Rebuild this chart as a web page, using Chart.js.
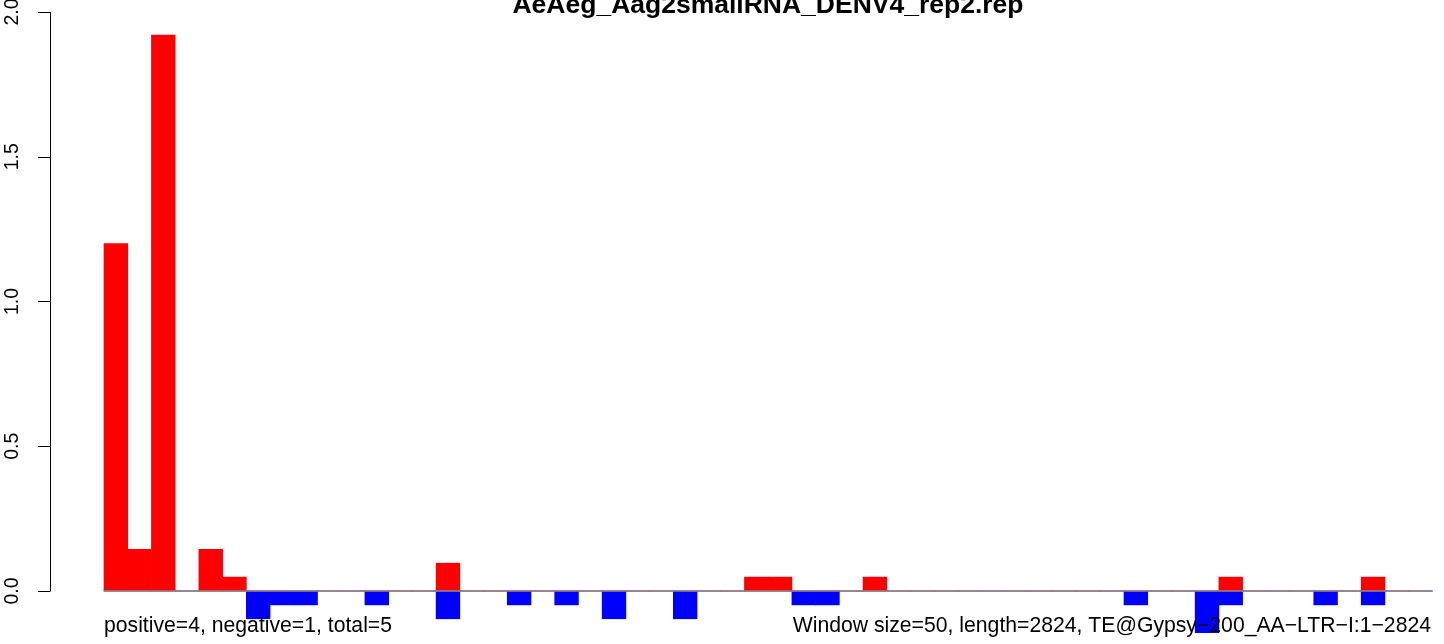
<!DOCTYPE html>
<html>
<head>
<meta charset="utf-8">
<script src="https://cdn.jsdelivr.net/npm/chart.js@4/dist/chart.umd.min.js"></script>
<style>
  body { margin: 0; background: #fff; }
  #wrap { width: 1444px; height: 644px; position: relative; }
</style>
</head>
<body>
<div id="wrap"><canvas id="grafico"></canvas></div>
<script>
// valores por janela de 50 nt (56 janelas)
const positivos = [
  1.2, 0.144, 1.92, 0, 0.144, 0.048, 0, 0, 0, 0,
  0, 0, 0, 0, 0.096, 0, 0, 0, 0, 0,
  0, 0, 0, 0, 0, 0, 0, 0.048, 0.048, 0,
  0, 0, 0.048, 0, 0, 0, 0, 0, 0, 0,
  0, 0, 0, 0, 0, 0, 0, 0.048, 0, 0,
  0, 0, 0, 0.048, 0, 0
];
const negativos = [
  0, 0, 0, 0, 0, 0, -0.096, -0.048, -0.048, 0,
  0, -0.048, 0, 0, -0.096, 0, 0, -0.048, 0, -0.048,
  0, -0.096, 0, 0, -0.096, 0, 0, 0, 0, -0.048,
  -0.048, 0, 0, 0, 0, 0, 0, 0, 0, 0,
  0, 0, 0, -0.048, 0, 0, -0.144, -0.048, 0, 0,
  0, -0.048, 0, -0.048, 0, 0
];
const ticksY = [0, 0.5, 1, 1.5, 2];
const rotulosY = ["0.0", "0.5", "1.0", "1.5", "2.0"];
const titulo = "AeAeg_Aag2smallRNA_DENV4_rep2.rep";
const textoEsq = "positive=4, negative=1, total=5";
const textoDir = "Window size=50, length=2824, TE@Gypsy\u2212200_AA\u2212LTR\u2212I:1\u22122824";

const fonte = '"Liberation Sans", Arial, Helvetica, sans-serif';

const eixos = {
  id: 'eixos',
  afterDraw(chart) {
    const c = chart.ctx;
    const x = chart.scales.x, y = chart.scales.y;
    const esq = chart.chartArea.left;
    c.save();
    // linha do eixo x (cinza) do inicio ao fim das barras
    c.strokeStyle = '#8a8a8a';
    c.lineWidth = 1.5;
    c.beginPath();
    c.moveTo(x.getPixelForValue(0), y.getPixelForValue(0));
    c.lineTo(x.getPixelForValue(positivos.length), y.getPixelForValue(0));
    c.stroke();
    // eixo y
    c.strokeStyle = '#000';
    c.lineWidth = 1;
    c.beginPath();
    c.moveTo(esq + 0.5, y.getPixelForValue(ticksY[0]));
    c.lineTo(esq + 0.5, y.getPixelForValue(ticksY[ticksY.length - 1]));
    ticksY.forEach(t => {
      const py = Math.round(y.getPixelForValue(t)) + 0.5;
      c.moveTo(esq + 0.5, py);
      c.lineTo(esq - 12, py);
    });
    c.stroke();
    c.fillStyle = '#000';
    c.font = '19.5px ' + fonte;
    c.textAlign = 'center';
    c.textBaseline = 'alphabetic';
    ticksY.forEach((t, i) => {
      c.save();
      c.translate(18, y.getPixelForValue(t));
      c.rotate(-Math.PI / 2);
      c.fillText(rotulosY[i], 0, 0);
      c.restore();
    });
    // titulo
    c.font = 'bold 26.5px ' + fonte;
    c.textAlign = 'center';
    c.fillText(titulo, 768, 13);
    // textos de baixo
    c.font = '21.2px ' + fonte;
    c.textAlign = 'left';
    c.fillText(textoEsq, 104, 632);
    c.textAlign = 'right';
    c.fillText(textoDir, 1431, 632);
    c.restore();
  }
};

const ctx = document.getElementById('grafico').getContext('2d');
const chart = new Chart(ctx, {
  type: 'bar',
  data: {
    datasets: [
      {
        label: 'positive',
        data: positivos.map((v, i) => ({ x: i + 0.5, y: v })),
        backgroundColor: '#ff0000',
        borderWidth: 0,
        grouped: false,
        categoryPercentage: 1,
        barPercentage: 1
      },
      {
        label: 'negative',
        data: negativos.map((v, i) => ({ x: i + 0.5, y: v })),
        backgroundColor: '#0000ff',
        borderWidth: 0,
        grouped: false,
        categoryPercentage: 1,
        barPercentage: 1
      }
    ]
  },
  options: {
    animation: false,
    responsive: true,
    maintainAspectRatio: false,
    layout: { padding: { left: 50, top: 12, right: 0, bottom: 0 } },
    scales: {
      x: {
        type: 'linear',
        offset: false,
        min: -2.2766,
        max: 56.49,
        display: false
      },
      y: {
        min: -0.1831,
        max: 2,
        display: false
      }
    },
    plugins: {
      legend: { display: false },
      tooltip: { enabled: false }
    }
  },
  plugins: [eixos]
});
</script>
</body>
</html>
